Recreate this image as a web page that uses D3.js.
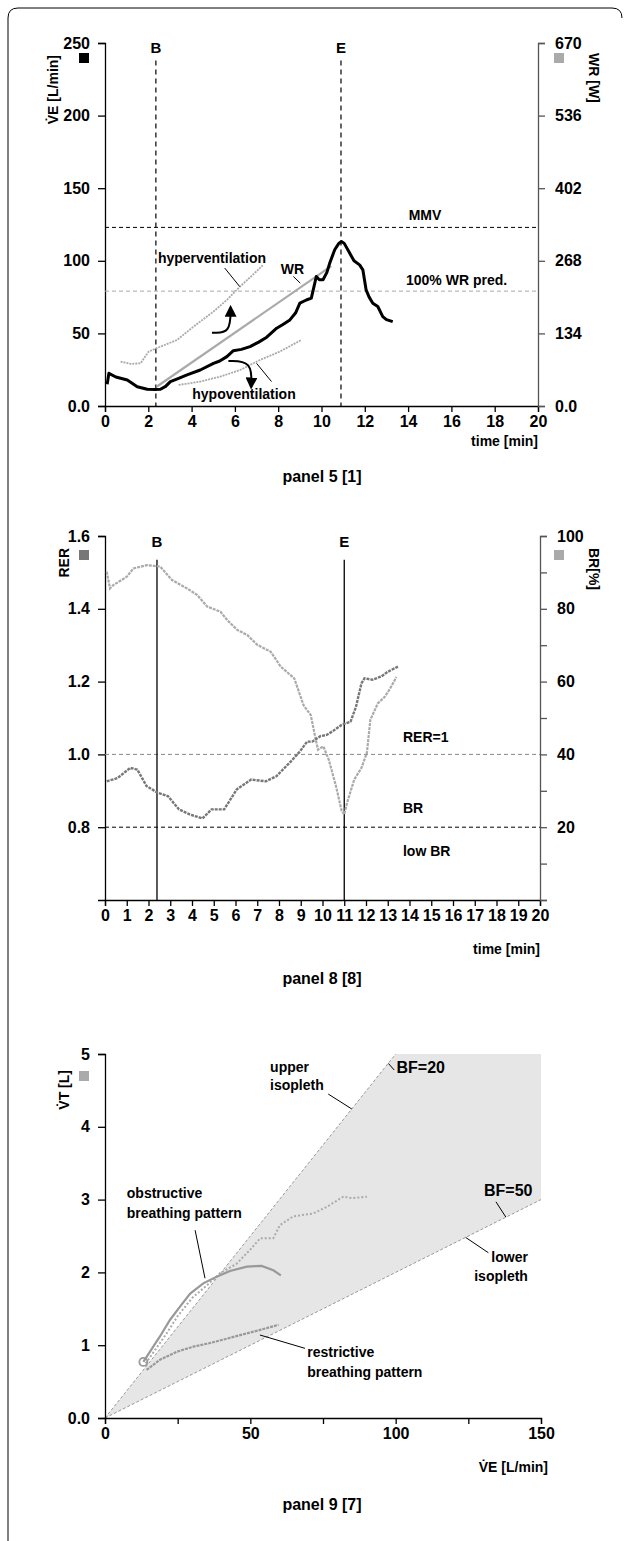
<!DOCTYPE html>
<html>
<head>
<meta charset="utf-8">
<script src="https://cdn.jsdelivr.net/npm/d3@7/dist/d3.min.js"></script>
<style>
  body { margin: 0; background: #fff; }
  text { font-family: "Liberation Sans", Arial, sans-serif; font-weight: bold; fill: #000; }
  .tick text { font-size: 16px; }
</style>
</head>
<body>
<svg id="fig" width="630" height="1541"></svg>
<script>
// ---- panel 5: ventilation & work rate vs time ----
var ve5 = [[0.1,15],[0.18,22.5],[0.5,20],[1.03,17.9],[1.49,13.3],[1.95,11.5],[2.3,11.3],[2.56,11.5],
  [2.8,13.5],[3.02,16.8],[3.4,19],[3.79,21.4],[4.4,24.8],[5.01,29.4],[5.3,31],[5.63,34],[5.93,38.1],
  [6.3,39],[6.7,40.9],[7.1,44],[7.47,47.4],[7.93,53.6],[8.2,56],[8.54,59.3],[8.8,64],[9.0,70.8],
  [9.3,73],[9.53,74.3],[9.65,82],[9.76,89.2],[9.9,87],[10.07,86.9],[10.25,92],[10.38,98.4],
  [10.61,107.6],[10.8,112],[10.92,113.3],[11.05,112],[11.3,105.3],[11.5,100],[11.76,97.2],
  [11.91,93.8],[12.06,80],[12.2,75],[12.37,70.8],[12.6,68.5],[12.83,61.6],[13.0,59.5],[13.29,58.1]];
var hyper5 = [[0.72,30.6],[1.18,29],[1.64,29.4],[2.02,37.5],[2.56,40.9],[3.33,45.5],[4.09,54.7],
  [5.01,65],[5.63,73.1],[6.24,82.3],[6.8,90],[7.31,97.2]];
var hypo5 = [[3.4,14.5],[4.4,16.8],[5.32,20.2],[6.24,24.8],[7.16,31.7],[8.08,37.5],[9.07,45.5]];
var wr5 = [[2.4,36],[10.45,258]];            // work rate ramp [W]
var markers5 = { B: 2.35, E: 10.9 };
var mmv5 = 123;                               // L/min
var wrPred5 = 212;                            // W
var xTicks5 = d3.range(0, 21, 2);
var yTicksL5 = [0, 50, 100, 150, 200, 250];
var yTicksR5 = [0, 134, 268, 402, 536, 670];

// ---- panel 8: RER & breathing reserve vs time ----
var rer8 = [[0.08,0.926],[0.58,0.935],[1.16,0.963],[1.49,0.958],[1.91,0.913],[2.41,0.895],[2.9,0.885],
  [3.4,0.849],[3.9,0.835],[4.48,0.824],[4.9,0.849],[5.48,0.849],[6.06,0.904],[6.72,0.931],[7.39,0.926],
  [7.88,0.94],[8.55,0.981],[8.96,1.008],[9.29,1.035],[9.53,1.035],[9.9,1.05],[10.21,1.054],[10.5,1.065],
  [10.88,1.081],[11.29,1.09],[11.54,1.131],[11.79,1.195],[11.93,1.209],[12.3,1.205],[12.7,1.214],
  [13.0,1.227],[13.47,1.241]];
var br8 = [[0.08,90.2],[0.23,85.6],[0.38,86.5],[1.0,88.8],[1.31,91.1],[1.93,92],[2.54,91.6],[3.08,87.9],
  [3.77,85.6],[4.24,83.8],[4.7,80.6],[5.31,79.2],[5.62,76.9],[6.08,74.2],[6.54,72.8],[7.0,70.1],
  [7.62,68.2],[8.08,64.1],[8.7,60.9],[9.13,53.5],[9.46,50.8],[9.63,45.8],[9.79,41.3],[10.04,42.2],
  [10.29,38.5],[10.62,31.3],[10.88,24.5],[11.0,23.5],[11.13,26.7],[11.46,33.1],[11.79,36.3],
  [12.04,40.4],[12.2,49.5],[12.54,54],[12.86,55.8],[13.1,58],[13.4,61.3]];
var markers8 = { B: 2.39, E: 11.0 };
var rerRef8 = 1.0;
var brRef8 = 20;
var xTicks8 = d3.range(0, 21, 1);
var yTicksL8 = [0.8, 1.0, 1.2, 1.4, 1.6];
var yTicksR8 = d3.range(0, 101, 10);

// ---- panel 9: tidal volume vs ventilation ----
var obstr9 = [[13.2,0.77],[16.6,0.98],[18.9,1.12],[22.4,1.35],[25.8,1.53],[29.3,1.71],[33.8,1.85],
  [38.4,1.94],[43,2.02],[48.8,2.08],[53.9,2.09],[57.9,2.03],[60.5,1.96]];
var obstrB9 = [[14,0.75],[17.5,0.95],[21,1.15],[25,1.4],[30,1.65],[35,1.82],[39.6,1.99],[45.3,2.12],
  [49.9,2.31],[53.4,2.47],[57.9,2.47],[60.2,2.65],[64.8,2.77],[71.7,2.81],[76.3,2.9],[82,3.04],
  [85,3.02],[90.1,3.04]];
var restr9 = [[14.3,0.66],[18.9,0.8],[24.7,0.91],[30.4,0.98],[36.1,1.03],[41.9,1.09],[47.6,1.15],
  [53.4,1.21],[59.7,1.28]];
var bfUpper9 = 20, bfLower9 = 50;
var xTicks9 = d3.range(0, 151, 25);
var yTicks9 = [0, 1, 2, 3, 4, 5];

var svg = d3.select('#fig');

// figure frame (left side and top only)
svg.append('path')
  .attr('d', 'M8,1545V18Q8,8 18,8H612Q622,8 622,18')
  .attr('fill', 'none').attr('stroke', '#000').attr('stroke-width', 1);

function styleAxis(g, color) {
  g.select('.domain').attr('stroke', color).attr('stroke-width', 1.3);
  g.selectAll('.tick line').attr('stroke', color).attr('stroke-width', 1.3);
  g.selectAll('.tick text').attr('fill', '#000');
}

function label(g, x, y, txt, opts) {
  opts = opts || {};
  return g.append('text').attr('x', x).attr('y', y)
    .attr('text-anchor', opts.anchor || 'start')
    .style('font-size', (opts.size || 14) + 'px')
    .text(txt);
}

function leader(g, p0, p1) {
  g.append('line').attr('x1', p0[0]).attr('y1', p0[1]).attr('x2', p1[0]).attr('y2', p1[1])
    .attr('stroke', '#000').attr('stroke-width', 1);
}

function sideTitle(g, x, y, txt, rot, anchor) {
  g.append('text').attr('transform', 'translate(' + x + ',' + y + ') rotate(' + rot + ')')
    .attr('text-anchor', anchor).style('font-size', '14px').text(txt);
}

var fmt0 = function (d) { return d === 0 ? '0.0' : d; };

var defs = svg.append('defs');
defs.append('marker').attr('id', 'ah').attr('viewBox', '0 0 10 10').attr('refX', 8).attr('refY', 5)
  .attr('markerWidth', 6).attr('markerHeight', 6).attr('orient', 'auto')
  .append('path').attr('d', 'M0,0L10,5L0,10Z').attr('fill', '#000');

// =============== PANEL 5 ===============
(function () {
  var g = svg.append('g');
  var x = d3.scaleLinear().domain([0, 20]).range([105, 538]);
  var y = d3.scaleLinear().domain([0, 250]).range([406, 43]);
  var yR = d3.scaleLinear().domain([0, 670]).range([406, 43]);

  g.append('g').attr('transform', 'translate(0,406)')
    .call(d3.axisBottom(x).tickValues(xTicks5).tickSizeOuter(0).tickSize(6).tickPadding(4))
    .call(styleAxis, '#000');
  g.append('g').attr('transform', 'translate(105,0)')
    .call(d3.axisLeft(y).tickValues(yTicksL5).tickFormat(fmt0).tickSizeOuter(0).tickSize(7).tickPadding(8))
    .call(styleAxis, '#000');
  g.append('g').attr('transform', 'translate(538,0)')
    .call(d3.axisRight(yR).tickValues(yTicksR5).tickFormat(fmt0).tickSizeOuter(0).tickSize(7).tickPadding(10))
    .call(styleAxis, '#555');

  // reference lines
  g.append('line').attr('x1', x(0)).attr('x2', x(20)).attr('y1', y(mmv5)).attr('y2', y(mmv5))
    .attr('stroke', '#000').attr('stroke-dasharray', '4,3');
  g.append('line').attr('x1', x(0)).attr('x2', x(20)).attr('y1', yR(wrPred5)).attr('y2', yR(wrPred5))
    .attr('stroke', '#aaa').attr('stroke-dasharray', '4,3');
  Object.keys(markers5).forEach(function (k) {
    g.append('line').attr('x1', x(markers5[k])).attr('x2', x(markers5[k]))
      .attr('y1', y(238)).attr('y2', y(0))
      .attr('stroke', '#000').attr('stroke-width', 1.2).attr('stroke-dasharray', '5,4');
    label(g, x(markers5[k]), y(243), k, { anchor: 'middle', size: 15 });
  });

  var line = d3.line().x(function (d) { return x(d[0]); }).y(function (d) { return y(d[1]); });
  g.append('path').attr('d', line(hyper5)).attr('fill', 'none')
    .attr('stroke', '#aaa').attr('stroke-width', 1.8).attr('stroke-dasharray', '2,1');
  g.append('path').attr('d', line(hypo5)).attr('fill', 'none')
    .attr('stroke', '#aaa').attr('stroke-width', 1.8).attr('stroke-dasharray', '2,1');
  g.append('path').attr('d', d3.line().x(function (d) { return x(d[0]); }).y(function (d) { return yR(d[1]); })(wr5))
    .attr('fill', 'none').attr('stroke', '#aaa').attr('stroke-width', 2.2);
  g.append('path').attr('d', line(ve5)).attr('fill', 'none')
    .attr('stroke', '#000').attr('stroke-width', 3).attr('stroke-linejoin', 'round');

  // curved arrows
  var curve = d3.line().curve(d3.curveBasis).x(function (d) { return x(d[0]); }).y(function (d) { return y(d[1]); });
  g.append('path').attr('d', curve([[4.94, 50.5], [5.8, 50], [5.8, 68]]))
    .attr('fill', 'none').attr('stroke', '#000').attr('stroke-width', 2).attr('marker-end', 'url(#ah)');
  g.append('path').attr('d', curve([[5.7, 31], [6.8, 31], [6.75, 13]]))
    .attr('fill', 'none').attr('stroke', '#000').attr('stroke-width', 2).attr('marker-end', 'url(#ah)');

  // annotations
  label(g, x(4.94), y(98.6), 'hyperventilation', { anchor: 'middle' });
  leader(g, [x(5.53), y(95)], [x(6.22), y(82.3)]);
  label(g, x(8.66), y(91), 'WR', { anchor: 'middle' });
  leader(g, [x(8.7), y(89.2)], [x(9.02), y(84.6)]);
  label(g, x(6.42), y(4.8), 'hypoventilation', { anchor: 'middle' });
  leader(g, [x(7.0), y(29.4)], [x(7.69), y(16.8)]);
  label(g, x(14.78), y(127.8), 'MMV', { anchor: 'middle' });
  label(g, x(16.24), y(83.4), '100% WR pred.', { anchor: 'middle' });

  // axis titles
  g.append('rect').attr('x', 79).attr('y', 53).attr('width', 10).attr('height', 10).attr('fill', '#000');
  g.append('rect').attr('x', 554).attr('y', 53).attr('width', 10).attr('height', 10).attr('fill', '#aaa');
  sideTitle(g, 58, 55, 'V\u0307E [L/min]', -90, 'end');
  sideTitle(g, 589, 53, 'WR [W]', 90, 'start');
  label(g, 538, 446, 'time [min]', { anchor: 'end' });
  label(g, 322, 482, 'panel 5 [1]', { anchor: 'middle', size: 16 });
})();

// =============== PANEL 8 ===============
(function () {
  var g = svg.append('g');
  var x = d3.scaleLinear().domain([0, 20]).range([105, 540]);
  var y = d3.scaleLinear().domain([0.6, 1.6]).range([900, 536]);
  var yR = d3.scaleLinear().domain([0, 100]).range([900, 536]);

  g.append('g').attr('transform', 'translate(0,900)')
    .call(d3.axisBottom(x).tickValues(xTicks8).tickSizeOuter(0).tickSize(6).tickPadding(4))
    .call(styleAxis, '#000');
  g.append('g').attr('transform', 'translate(105,0)')
    .call(d3.axisLeft(y).tickValues(yTicksL8).tickFormat(d3.format('.1f')).tickSizeOuter(0).tickSize(7).tickPadding(8))
    .call(styleAxis, '#000');
  g.append('g').attr('transform', 'translate(540,0)')
    .call(d3.axisRight(yR).tickValues(yTicksR8)
      .tickFormat(function (d) { return d % 20 === 0 && d > 0 ? d : ''; })
      .tickSizeOuter(0).tickSize(7).tickPadding(10))
    .call(styleAxis, '#555');

  g.append('line').attr('x1', x(0)).attr('x2', x(20)).attr('y1', y(rerRef8)).attr('y2', y(rerRef8))
    .attr('stroke', '#888').attr('stroke-dasharray', '4,3');
  g.append('line').attr('x1', x(0)).attr('x2', x(20)).attr('y1', yR(brRef8)).attr('y2', yR(brRef8))
    .attr('stroke', '#000').attr('stroke-dasharray', '4,3');
  Object.keys(markers8).forEach(function (k) {
    g.append('line').attr('x1', x(markers8[k])).attr('x2', x(markers8[k]))
      .attr('y1', y(1.535)).attr('y2', y(0.6)).attr('stroke', '#000').attr('stroke-width', 1.3);
    label(g, x(markers8[k]), y(1.571), k, { anchor: 'middle', size: 15 });
  });

  var lineR = d3.line().x(function (d) { return x(d[0]); }).y(function (d) { return y(d[1]); });
  var lineB = d3.line().x(function (d) { return x(d[0]); }).y(function (d) { return yR(d[1]); });
  g.append('path').attr('d', lineB(br8)).attr('fill', 'none')
    .attr('stroke', '#aaa').attr('stroke-width', 2.2).attr('stroke-dasharray', '3,1');
  g.append('path').attr('d', lineR(rer8)).attr('fill', 'none')
    .attr('stroke', '#777').attr('stroke-width', 2.4).attr('stroke-dasharray', '3,1');

  label(g, x(13.7), y(1.035), 'RER=1');
  label(g, x(13.7), y(0.84), 'BR');
  label(g, x(13.7), y(0.72), 'low BR');

  g.append('rect').attr('x', 79).attr('y', 550).attr('width', 10).attr('height', 10).attr('fill', '#777');
  g.append('rect').attr('x', 554).attr('y', 550).attr('width', 10).attr('height', 10).attr('fill', '#aaa');
  sideTitle(g, 69, 548, 'RER', -90, 'end');
  sideTitle(g, 589, 548, 'BR[%]', 90, 'start');
  label(g, 540, 954, 'time [min]', { anchor: 'end' });
  label(g, 322, 984, 'panel 8 [8]', { anchor: 'middle', size: 16 });
})();

// =============== PANEL 9 ===============
(function () {
  var g = svg.append('g');
  var x = d3.scaleLinear().domain([0, 150]).range([105, 541]);
  var y = d3.scaleLinear().domain([0, 5]).range([1418, 1054]);

  // isopleth region
  var region = [[0, 0], [bfUpper9 * 5, 5], [150, 5], [150, 150 / bfLower9], [0, 0]];
  g.append('path').attr('d', d3.line().x(function (d) { return x(d[0]); }).y(function (d) { return y(d[1]); })(region))
    .attr('fill', '#e6e6e6').attr('stroke', 'none');
  [bfUpper9, bfLower9].forEach(function (bf) {
    var xe = Math.min(150, bf * 5);
    g.append('line').attr('x1', x(0)).attr('y1', y(0)).attr('x2', x(xe)).attr('y2', y(xe / bf))
      .attr('stroke', '#999').attr('stroke-dasharray', '3,2');
  });

  g.append('g').attr('transform', 'translate(0,1418)')
    .call(d3.axisBottom(x).tickValues(xTicks9)
      .tickFormat(function (d) { return d % 50 === 0 ? d : ''; })
      .tickSizeOuter(0).tickSize(6).tickPadding(4))
    .call(styleAxis, '#000');
  g.append('g').attr('transform', 'translate(105,0)')
    .call(d3.axisLeft(y).tickValues(yTicks9).tickFormat(fmt0).tickSizeOuter(0).tickSize(7).tickPadding(8))
    .call(styleAxis, '#000');

  var line = d3.line().x(function (d) { return x(d[0]); }).y(function (d) { return y(d[1]); });
  g.append('path').attr('d', line(restr9)).attr('fill', 'none')
    .attr('stroke', '#999').attr('stroke-width', 2.2).attr('stroke-dasharray', '3,1');
  g.append('path').attr('d', line(obstrB9)).attr('fill', 'none')
    .attr('stroke', '#aaa').attr('stroke-width', 2).attr('stroke-dasharray', '2,2');
  g.append('path').attr('d', line(obstr9)).attr('fill', 'none')
    .attr('stroke', '#999').attr('stroke-width', 2.2);
  g.append('circle').attr('cx', x(obstr9[0][0])).attr('cy', y(obstr9[0][1])).attr('r', 4)
    .attr('fill', 'none').attr('stroke', '#999').attr('stroke-width', 1.8);

  label(g, x(56.8), y(4.757), 'upper');
  label(g, x(56.8), y(4.505), 'isopleth');
  leader(g, [x(76.8), y(4.45)], [x(84.9), y(4.245)]);
  label(g, x(100.3), y(4.74), 'BF=20', { size: 16 });
  leader(g, [x(97.5), y(4.87)], [x(99.5), y(4.78)]);
  label(g, x(130.4), y(3.05), 'BF=50', { size: 16 });
  leader(g, [x(134.5), y(2.97)], [x(137.9), y(2.76)]);
  label(g, x(145.5), y(2.147), 'lower', { anchor: 'end' });
  label(g, x(145.5), y(1.886), 'isopleth', { anchor: 'end' });
  leader(g, [x(124.1), y(2.48)], [x(131.9), y(2.27)]);
  label(g, x(69.6), y(0.842), 'restrictive');
  label(g, x(69.6), y(0.567), 'breathing pattern');
  leader(g, [x(53.3), y(1.14)], [x(68.8), y(0.957)]);
  label(g, x(7.5), y(3.02), 'obstructive');
  label(g, x(7.5), y(2.747), 'breathing pattern');
  leader(g, [x(31), y(2.58)], [x(34.4), y(1.92)]);

  g.append('rect').attr('x', 79).attr('y', 1071).attr('width', 10).attr('height', 10).attr('fill', '#aaa');
  sideTitle(g, 69, 1070, 'V\u0307T [L]', -90, 'end');
  label(g, 548, 1472, 'V\u0307E [L/min]', { anchor: 'end' });
  label(g, 322, 1510, 'panel 9 [7]', { anchor: 'middle', size: 16 });
})();
</script>
</body>
</html>
